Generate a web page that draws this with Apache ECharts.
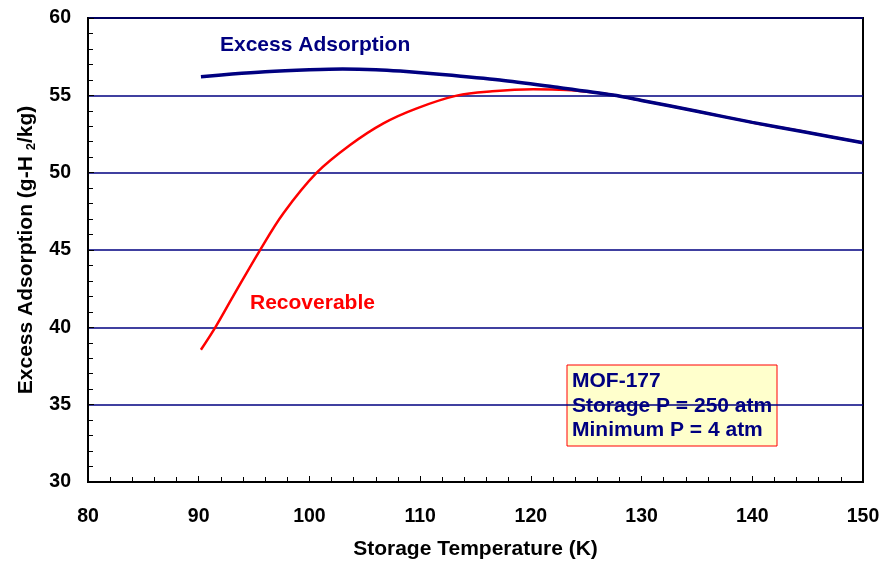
<!DOCTYPE html>
<html>
<head>
<meta charset="utf-8">
<script src="https://cdn.jsdelivr.net/npm/echarts@6/dist/echarts.min.js"></script>
<style>html,body{margin:0;padding:0;background:#fff}#c{width:893px;height:561px}</style>
</head>
<body>
<div id="c"></div>
<script>
// Data
const excessT   = [90.2, 93, 96, 100, 103, 106, 108.2, 112, 117.2, 122, 127.4, 130, 135, 140, 145, 150];
const excessVal = [56.2, 56.38, 56.53, 56.65, 56.7, 56.66, 56.57, 56.35, 55.99, 55.55, 55.02, 54.67, 53.97, 53.25, 52.6, 51.93];
const recovT    = [90.2, 91.5, 93.1, 95.5, 97.65, 100.66, 103.67, 106.68, 109.7, 113.3, 116.5, 120.2, 123.2, 126.3, 127.4, 130, 135, 140, 145, 150];
const recovVal  = [38.55, 40.0, 42.0, 44.95, 47.38, 50.0, 51.79, 53.19, 54.16, 54.98, 55.26, 55.39, 55.35, 55.13, 55.02, 54.67, 53.97, 53.25, 52.6, 51.93];
const xTicks = [80, 90, 100, 110, 120, 130, 140, 150];
const yTicks = [30, 35, 40, 45, 50, 55, 60];
const boxLines = ['MOF-177', 'Storage P = 250 atm', 'Minimum P = 4 atm'];

const FONT = "'Liberation Sans', Arial, sans-serif";
const NAVY = '#000080';
const zip = (a, b) => a.map((v, i) => [v, b[i]]);

const chart = echarts.init(document.getElementById('c'));
chart.setOption({
  animation: false,
  backgroundColor: '#fff',
  grid: { left: 88, right: 30, top: 18, bottom: 79, outerBoundsMode: 'none', containLabel: false,
    show: true, borderColor: '#000', borderWidth: 2, backgroundColor: 'transparent' },
  xAxis: {
    type: 'value', min: xTicks[0], max: xTicks[xTicks.length - 1], interval: 10,
    name: 'Storage Temperature (K)', nameLocation: 'middle', nameGap: 57,
    nameTextStyle: { fontFamily: FONT, fontWeight: 'bold', fontSize: 21, color: '#000' },
    axisLine: { lineStyle: { color: '#000', width: 2 } },
    axisTick: { inside: true, length: 6, lineStyle: { color: '#000', width: 1 } },
    minorTick: { show: true, splitNumber: 5, length: 5, lineStyle: { color: '#000', width: 1 } },
    axisLabel: { fontFamily: FONT, fontWeight: 'bold', fontSize: 19.5, color: '#000', margin: 25 },
    splitLine: { show: false }
  },
  yAxis: {
    type: 'value', min: yTicks[0], max: yTicks[yTicks.length - 1], interval: 5,
    name: 'Excess Adsorption (g-H {sub|2}/kg)', nameLocation: 'middle', nameGap: 50, nameRotate: 90,
    nameTextStyle: { fontFamily: FONT, fontWeight: 'bold', fontSize: 21, color: '#000',
      rich: { sub: { fontFamily: FONT, fontWeight: 'bold', fontSize: 13, color: '#000', verticalAlign: 'bottom', padding: [10, 0, 0, 0] } } },
    axisLine: { show: true, lineStyle: { color: '#000', width: 2 } },
    axisTick: { inside: true, length: 6, lineStyle: { color: '#000', width: 1 } },
    minorTick: { show: true, splitNumber: 5, length: 5, lineStyle: { color: '#000', width: 1 } },
    axisLabel: { fontFamily: FONT, fontWeight: 'bold', fontSize: 19.5, color: '#000', margin: 17 },
    splitLine: { show: true, lineStyle: { color: NAVY, width: 1.5 } }
  },
  series: [
    { type: 'line', name: 'Recoverable', data: zip(recovT, recovVal), smooth: 0.35, showSymbol: false,
      lineStyle: { color: '#ff0000', width: 2.5 }, z: 3 },
    { type: 'line', name: 'Excess Adsorption', data: zip(excessT, excessVal), smooth: 0.3, showSymbol: false,
      lineStyle: { color: NAVY, width: 3.5 }, z: 4 }
  ],
  graphic: [
    { type: 'text', x: 220, y: 45, z: 10,
      style: { text: 'Excess Adsorption', fontFamily: FONT, fontWeight: 'bold', fontSize: 21, fill: NAVY, verticalAlign: 'middle' } },
    { type: 'text', x: 250, y: 303, z: 10,
      style: { text: 'Recoverable', fontFamily: FONT, fontWeight: 'bold', fontSize: 21, fill: '#ff0000', verticalAlign: 'middle' } },
    { type: 'group', x: 567, y: 365, z: 20, children: [
      { type: 'rect', shape: { x: 0, y: 0, width: 210, height: 81 },
        style: { fill: '#ffffcc', stroke: '#ff0000', lineWidth: 1 } },
      { type: 'text', x: 5, y: 4, style: { text: boxLines.join('\n'), lineHeight: 24.5, fontFamily: FONT, fontWeight: 'bold', fontSize: 21, fill: NAVY } }
    ] }
  ]
});
</script>
</body>
</html>
